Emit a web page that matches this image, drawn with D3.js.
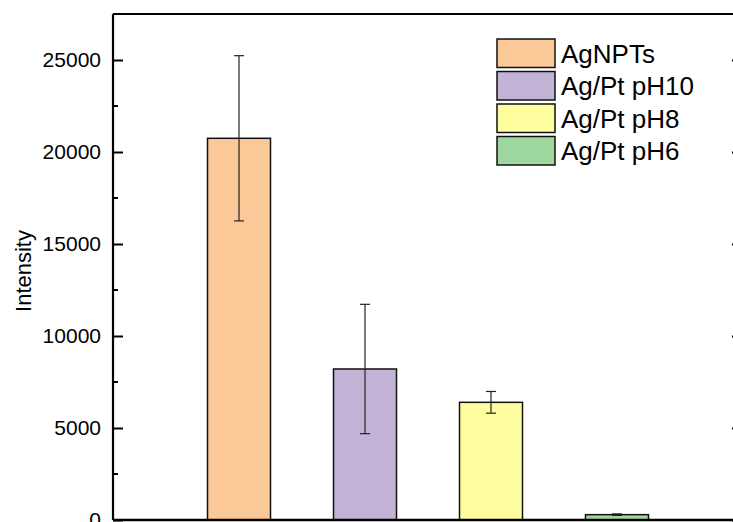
<!DOCTYPE html>
<html>
<head>
<meta charset="utf-8">
<script src="https://cdn.jsdelivr.net/npm/d3@7"></script>
<style>
  html, body { margin: 0; padding: 0; background: #fff; }
  svg { display: block; font-family: "Liberation Sans", Arial, sans-serif; }
</style>
</head>
<body>
<svg id="chart" width="733" height="522"></svg>
<script>
// Sample groups and measured intensity (mean ± standard deviation)
const categories = ["AgNPTs", "Ag/Pt pH10", "Ag/Pt pH8", "Ag/Pt pH6"];
const intensity = [20745, 8207, 6395, 290];
const errors = [4490, 3515, 590, 40];
const fills = ["#FBC898", "#C2B2D6", "#FFFE9F", "#9FD89E"];
const yTicks = [0, 5000, 10000, 15000, 20000, 25000];
const yMinorTicks = [2500, 7500, 12500, 17500, 22500, 27500];

const svg = d3.select("#chart");
const plotLeft = 113, plotRight = 743, plotTop = 14, plotBottom = 520;

// Categories sit at positions 1..4 on a 0..5 linear axis
const x = d3.scaleLinear().domain([0, categories.length + 1]).range([plotLeft, plotRight]);
const y = d3.scaleLinear().domain([0, 27500]).range([plotBottom, plotTop]);
const barW = x(0.5) - x(0);

// Bars
svg.append("g").selectAll("rect")
  .data(categories)
  .join("rect")
  .attr("x", (d, i) => x(i + 1) - barW / 2)
  .attr("y", (d, i) => y(intensity[i]))
  .attr("width", barW)
  .attr("height", (d, i) => y(0) - y(intensity[i]))
  .attr("fill", (d, i) => fills[i])
  .attr("stroke", "#111")
  .attr("stroke-width", 1.5);

// Error bars
const capW = 10;
const eb = svg.append("g").attr("stroke", "#222").attr("stroke-width", 1.2).attr("fill", "none");
categories.forEach((c, i) => {
  const cx = x(i + 1);
  const hi = y(intensity[i] + errors[i]);
  const lo = y(intensity[i] - errors[i]);
  eb.append("line").attr("x1", cx).attr("x2", cx).attr("y1", hi).attr("y2", lo);
  eb.append("line").attr("x1", cx - capW / 2).attr("x2", cx + capW / 2).attr("y1", hi).attr("y2", hi);
  eb.append("line").attr("x1", cx - capW / 2).attr("x2", cx + capW / 2).attr("y1", lo).attr("y2", lo);
});

// Frame
const frame = svg.append("g").attr("stroke", "#000").attr("stroke-width", 2.2).attr("fill", "none");
frame.append("line").attr("x1", plotLeft).attr("x2", plotRight).attr("y1", plotTop).attr("y2", plotTop);
frame.append("line").attr("x1", plotRight).attr("x2", plotRight).attr("y1", plotTop).attr("y2", plotBottom);

// Left axis, ticks pointing inward
const yAxis = d3.axisLeft(y).tickValues(yTicks).tickSize(-10).tickPadding(12).tickFormat(d3.format("d"));
const gy = svg.append("g").attr("transform", `translate(${plotLeft},0)`).call(yAxis);
gy.select(".domain").attr("stroke-width", 2.2).attr("d", `M0,${plotBottom}V${plotTop}`);
gy.selectAll(".tick line").attr("stroke-width", 2);
gy.selectAll(".tick text").attr("font-size", 21).attr("font-family", "Liberation Sans, Arial, sans-serif").attr("fill", "#000");
gy.selectAll(".minor").data(yMinorTicks).join("line")
  .attr("class", "minor").attr("x1", 0).attr("x2", 5)
  .attr("y1", d => y(d)).attr("y2", d => y(d))
  .attr("stroke", "#000").attr("stroke-width", 2);

// Right axis mirrors the left ticks
const gr = svg.append("g").attr("transform", `translate(${plotRight},0)`)
  .call(d3.axisRight(y).tickValues(yTicks).tickSize(-11).tickFormat(""));
gr.select(".domain").remove();
gr.selectAll(".tick line").attr("stroke-width", 2);

// Bottom axis line
svg.append("line").attr("x1", plotLeft).attr("x2", plotRight).attr("y1", plotBottom).attr("y2", plotBottom)
  .attr("stroke", "#000").attr("stroke-width", 2.6);

// Y axis title
svg.append("text")
  .attr("transform", `translate(31,${(plotTop + plotBottom) / 2 + 4}) rotate(-90)`)
  .attr("text-anchor", "middle")
  .attr("font-size", 22)
  .text("Intensity");

// Legend
const lg = svg.append("g").attr("transform", "translate(497,39)");
const rowH = 32.5;
categories.forEach((c, i) => {
  const row = lg.append("g").attr("transform", `translate(0,${i * rowH})`);
  row.append("rect").attr("x", 0).attr("y", 0).attr("width", 58).attr("height", 28.5)
    .attr("fill", fills[i]).attr("stroke", "#111").attr("stroke-width", 1.5);
  row.append("text").attr("x", 64).attr("y", 14.5).attr("dy", "0.36em")
    .attr("font-size", 26).text(c);
});
</script>
</body>
</html>
